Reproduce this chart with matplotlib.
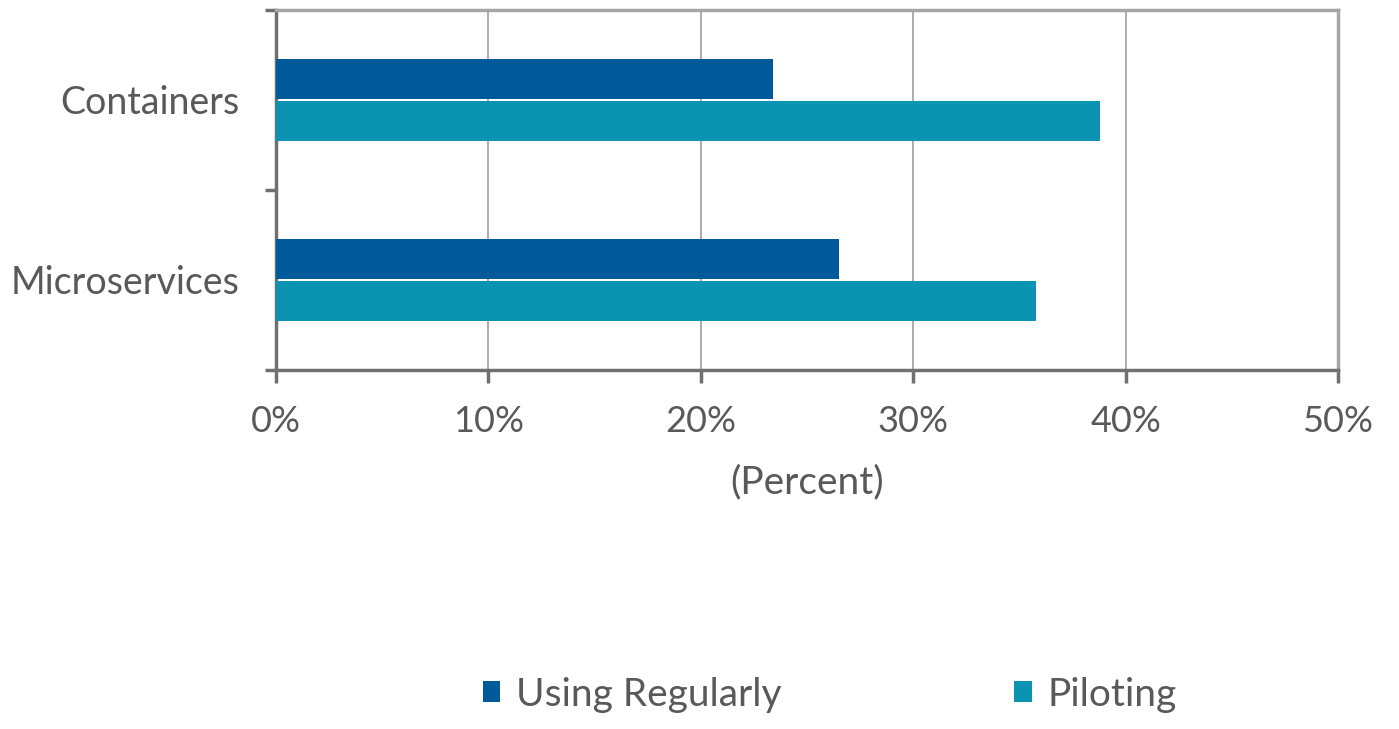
import numpy as np
import matplotlib.pyplot as plt

# data
categories = ["Microservices", "Containers"]
using_regularly = [26.5, 23.4]
piloting = [35.8, 38.8]
series_names = ["Using Regularly", "Piloting"]
x_ticks = [0, 10, 20, 30, 40, 50]

c_using = "#005a9a"
c_pilot = "#0a94b2"
txt = "#595959"

plt.rcParams['font.family'] = ['Lato', 'DejaVu Sans']

fig = plt.figure(figsize=(13.99, 7.29), dpi=100)
ax = fig.add_axes([0.1973, 0.4925, 0.7591, 0.4938])

y = np.arange(len(categories))
h = 0.222
ax.barh(y + 0.118, using_regularly, height=h, color=c_using, label=series_names[0], zorder=3)
ax.barh(y - 0.118, piloting, height=h, color=c_pilot, label=series_names[1], zorder=3)

ax.set_xlim(0, 50)
ax.set_ylim(-0.5, 1.5)
ax.set_xticks(x_ticks)
ax.set_xticklabels([f"{v}%" for v in x_ticks])
ax.set_yticks(y)
ax.set_yticklabels(categories)
ax.set_yticks([-0.5, 0.5, 1.5], minor=True)

ax.grid(axis='x', color='#a6a6a6', lw=1.3, zorder=0)
for s in ['top', 'right']:
    ax.spines[s].set_color('#a6a6a6')
    ax.spines[s].set_linewidth(2.5)
for s in ['left', 'bottom']:
    ax.spines[s].set_color('#707070')
    ax.spines[s].set_linewidth(2.5)

ax.tick_params(axis='y', which='major', length=0, pad=26, labelsize=27, labelcolor=txt)
ax.tick_params(axis='y', which='minor', length=8, width=2.5, color='#707070')
ax.tick_params(axis='x', length=9, width=2.5, color='#707070', pad=16, labelsize=26, labelcolor=txt)

ax.set_xlabel("(Percent)", fontsize=28, color=txt, labelpad=19)

fig.legend(loc='center', bbox_to_anchor=(0.593, 0.047), ncol=2, frameon=False,
           fontsize=28, labelcolor=txt, handlelength=0.45, handleheight=0.45,
           handletextpad=0.4, columnspacing=6.0)

fig.savefig("out.png", dpi=100)
